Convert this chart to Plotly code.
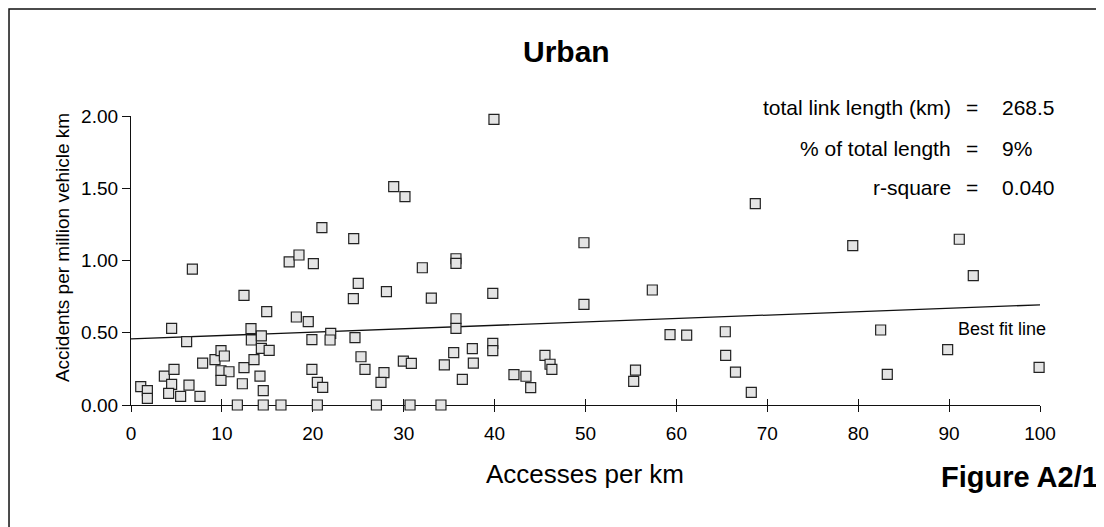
import plotly.graph_objects as go

# Accesses per km (x) and accidents per million vehicle km (y)
access = [1.07, 1.8, 1.8, 3.67, 4.73, 4.47, 4.14, 5.46, 4.47, 6.12, 6.75, 6.38, 7.59, 7.88,
          9.24, 9.9, 10.27, 9.9, 10.78, 9.9, 11.7, 12.43, 12.25, 12.43, 13.2, 13.24, 13.53,
          14.34, 14.34, 15.2, 14.19, 14.55, 14.93, 14.55, 16.5, 17.4, 18.48, 20.06, 21.0,
          18.19, 19.5, 19.9, 19.9, 20.5, 20.5, 39.93, 28.9, 30.14, 24.5, 25.0, 24.46, 28.1,
          32.05, 33.04, 35.75, 35.75, 39.8, 21.97, 21.9, 24.64, 35.75, 35.75, 25.3, 25.74,
          27.83, 27.5, 29.96, 30.84, 34.47, 35.5, 37.55, 37.66, 36.45, 39.8, 39.8, 21.09,
          27.0, 30.7, 34.1, 49.83, 57.35, 49.83, 59.3, 45.54, 46.1, 46.3, 42.13, 43.45,
          43.97, 44.04, 55.5, 55.3, 68.68, 79.4, 61.13, 65.38, 65.42, 66.5, 68.24, 91.12,
          92.66, 82.47, 83.2, 89.84, 99.9]
accidents = [0.127, 0.099, 0.046, 0.20, 0.247, 0.143, 0.081, 0.06, 0.53, 0.438, 0.94, 0.138,
             0.06, 0.29, 0.314, 0.376, 0.339, 0.237, 0.23, 0.171, 0.0, 0.759, 0.147, 0.258,
             0.528, 0.45, 0.314, 0.478, 0.392, 0.378, 0.20, 0.099, 0.646, 0.0, 0.0, 0.99,
             1.038, 0.978, 1.228, 0.609, 0.577, 0.452, 0.247, 0.157, 0.0, 1.977, 1.511, 1.442,
             1.151, 0.842, 0.736, 0.784, 0.95, 0.74, 1.012, 0.98, 0.773, 0.496, 0.45, 0.466,
             0.597, 0.53, 0.334, 0.247, 0.224, 0.157, 0.304, 0.288, 0.277, 0.362, 0.39, 0.29,
             0.178, 0.427, 0.376, 0.122, 0.0, 0.0, 0.0, 1.123, 0.796, 0.697, 0.487, 0.344,
             0.282, 0.247, 0.21, 0.199, 0.12, -0.01, 0.242, 0.164, 1.393, 1.103, 0.484, 0.507,
             0.344, 0.228, 0.088, 1.147, 0.895, 0.519, 0.212, 0.383, 0.261]

fit_x = [0, 100]
fit_y = [0.457, 0.693]

x_ticks = [0, 10, 20, 30, 40, 50, 60, 70, 80, 90, 100]
y_ticks = [0.0, 0.5, 1.0, 1.5, 2.0]
y_tick_labels = ["0.00", "0.50", "1.00", "1.50", "2.00"]

stat_labels = ["total link length (km)", "% of total length", "r-square"]
stat_values = ["268.5", "9%", "0.040"]

FONT = "Liberation Sans, Arial, sans-serif"

fig = go.Figure()
fig.add_trace(go.Scatter(
    x=fit_x, y=fit_y, mode="lines",
    line=dict(color="#111111", width=1.3), hoverinfo="skip", showlegend=False))
fig.add_trace(go.Scatter(
    x=access, y=accidents, mode="markers", cliponaxis=False,
    marker=dict(symbol="square", size=10, color="#e4e4e4",
                line=dict(color="#222222", width=1.2)),
    showlegend=False))
# invisible trace for overlay axis carrying the inner half of the crossing ticks
fig.add_trace(go.Scatter(x=fit_x, y=fit_y, xaxis="x2", mode="none",
                         hoverinfo="skip", showlegend=False))

fig.update_layout(
    width=1096, height=519,
    margin=dict(l=123, r=64, t=108, b=122),
    paper_bgcolor="white", plot_bgcolor="white",
    font=dict(family=FONT, color="black"),
    xaxis=dict(range=[0, 100], tickvals=x_ticks, ticks="outside", ticklen=6,
               tickwidth=1.3, tickcolor="#111111", showline=True, linecolor="#111111",
               linewidth=1.3, showgrid=False, zeroline=False, layer="below traces",
               tickfont=dict(size=19, family=FONT), ticklabelstandoff=5),
    xaxis2=dict(range=[0, 100], overlaying="x", tickvals=x_ticks, ticks="inside",
                ticklen=6, tickwidth=1.3, tickcolor="#111111", showticklabels=False,
                showgrid=False, zeroline=False, showline=False, side="bottom",
                layer="below traces"),
    yaxis=dict(range=[0, 2], tickvals=y_ticks, ticktext=y_tick_labels, ticks="outside",
               ticklen=8, tickwidth=1.3, tickcolor="#111111", showline=True,
               linecolor="#111111", linewidth=1.3, showgrid=False, zeroline=False,
               layer="below traces", tickfont=dict(size=19, family=FONT)),
)


def note(text, x, y, size, xanchor="center", angle=0):
    return dict(text=text, x=x, y=y, xref="paper", yref="paper", xanchor=xanchor,
                yanchor="middle", textangle=angle, showarrow=False,
                font=dict(size=size, family=FONT))


ann = [note("<b>Urban</b>", 0.4796, 1.2215, 30)]
rows_y = [1.0277, 0.889, 0.751]
for lab, val, yy in zip(stat_labels, stat_values, rows_y):
    ann.append(note(lab, 0.9043, yy, 21, "right"))
    ann.append(note("=", 0.925, yy, 21, "center"))
    ann.append(note(val, 0.956, yy, 21, "left"))
ann.append(note("Best fit line", 1.0088, 0.263, 18, "right"))
ann.append(note("Accesses per km", 0.4994, -0.2388, 26))
ann.append(note("<b>Figure A2/1</b>", 1.066, -0.249, 29, "right"))
ann.append(note("Accidents per million vehicle km", -0.0759, 0.543, 19, "center", -90))
fig.update_layout(annotations=ann)

fig.add_shape(type="rect", xref="paper", yref="paper", x0=-0.1342, x1=1.1, y0=-0.5, y1=1.370,
              line=dict(color="#111111", width=1.5), fillcolor="rgba(0,0,0,0)", layer="above")

fig.write_html("out.html")
